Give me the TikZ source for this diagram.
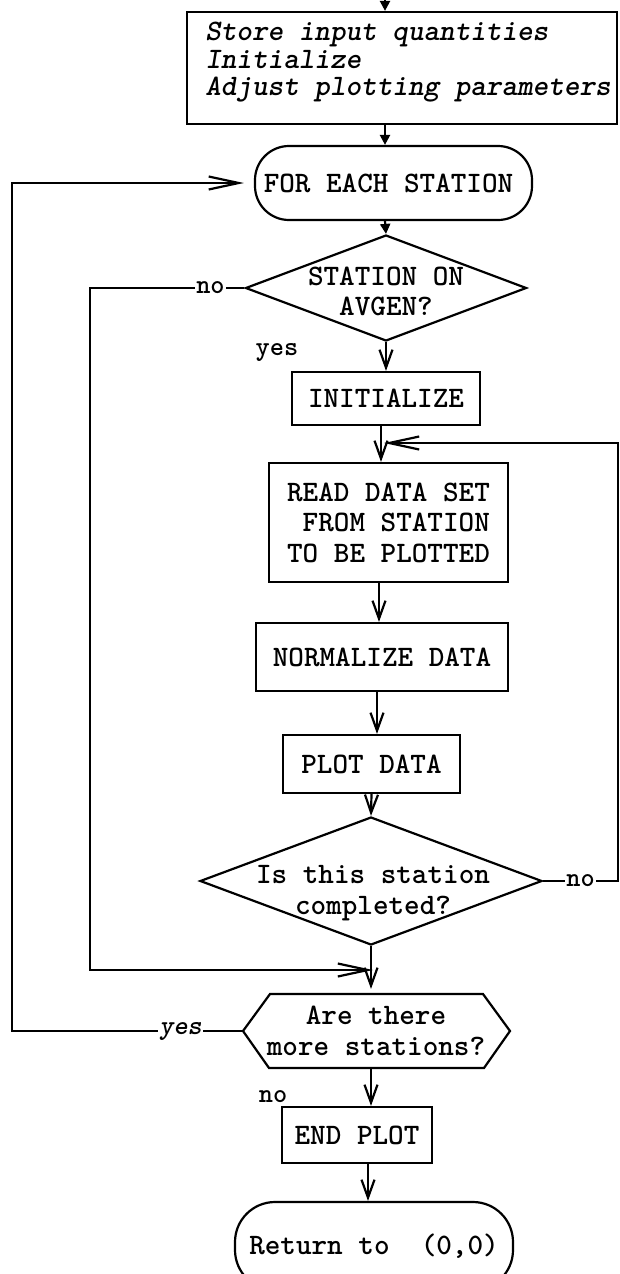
\documentclass[tikz,border=0pt]{standalone}
\usepackage{fontspec}
\usetikzlibrary{arrows.meta,shapes.geometric}
\newcommand{\twfont}{\ttfamily\bfseries}
\begin{document}
\begin{tikzpicture}[x=1pt,y=-1pt,
  line width=2.2pt,
  every node/.style={font=\twfont\fontsize{29.7pt}{30.5pt}\selectfont},
  box/.style={draw, rectangle, inner sep=0pt, align=center},
  term/.style={draw, rectangle, rounded corners=34pt, inner sep=0pt},
  dec/.style={draw, diamond, inner sep=0pt},
  lab/.style={font=\twfont\fontsize{27pt}{29pt}\selectfont, inner sep=1pt},
  arr/.style={-{Straight Barb[length=18pt,width=13pt]}},
  larr/.style={-{Straight Barb[length=30pt,width=13pt]}},
  farr/.style={-{Triangle[length=10pt,width=10pt]}},
]
\useasboundingbox (0,0) rectangle (619,1274);

% nodes
\node[box, minimum width=430pt, minimum height=112pt, align=left,
      font=\twfont\itshape\fontsize{29.7pt}{27.5pt}\selectfont] (init0) at (402,68)
  {\hspace*{12pt}Store input quantities\\\hspace*{12pt}Initialize\\\hspace*{12pt}Adjust plotting parameters\rule[-18pt]{0pt}{18pt}};
\node[term, minimum width=277pt, minimum height=74pt] (each) at (393.5,183) {FOR EACH STATION\hspace*{10pt}};
\node[dec, minimum width=281pt, minimum height=106pt,
      label={[align=center, yshift=-3.5pt]center:STATION ON\\AVGEN?}] (dec1) at (386,288) {};
\node[box, minimum width=188pt, minimum height=53pt] (initb) at (386,398.5) {INITIALIZE};
\node[box, minimum width=239pt, minimum height=119pt, align=left] (read) at (388.5,522.5)
  {READ DATA SET\\\hphantom{R}FROM STATION\\TO BE PLOTTED};
\node[box, minimum width=252pt, minimum height=68pt] (norm) at (382,657) {NORMALIZE DATA};
\node[box, minimum width=177pt, minimum height=58pt] (plot) at (371.5,764) {PLOT DATA};
\node[dec, minimum width=342pt, minimum height=128pt,
      label={[align=center, yshift=-12pt, xshift=2pt]center:Is this station\\completed?}] (dec2) at (371,881) {};
\node[inner sep=0pt, minimum width=213pt, minimum height=74pt, align=center] (hex) at (376,1031)
  {Are there\\more stations?};
\draw ([shift={(-133,0)}]hex.center) -- ([shift={(-106,-37)}]hex.center)
   -- ([shift={(107,-37)}]hex.center) -- ([shift={(134,0)}]hex.center)
   -- ([shift={(108,37)}]hex.center) -- ([shift={(-107,37)}]hex.center) -- cycle;
\coordinate (hexL) at ([shift={(-133,0)}]hex.center);
\node[box, minimum width=150pt, minimum height=56pt] (endp) at (357,1135) {END PLOT};
\node[term, rounded corners=40pt, minimum width=278pt, minimum height=88pt] (ret) at (374,1246) {Return to\ \ (0,0)};

% labels
\node[lab] (yes1) at (277,352) {yes};
\node[lab] (no3) at (273,1097) {no};

% column coordinates
\coordinate (ctop) at (385,-20);
\coordinate (c1) at (385,0);
\coordinate (c2) at (381,0);
\coordinate (c3) at (379,0);
\coordinate (c4) at (377,0);
\coordinate (c6) at (371,0);
\coordinate (c7) at (368,0);
\coordinate (nA) at (90,0);
\coordinate (jn) at (373,970);
\coordinate (rR) at (618,0);
\coordinate (jr) at (384,443);
\coordinate (lL) at (12,0);

% main flow
\draw[farr] (ctop) -- (init0.north -| ctop);
\draw[farr] (init0.south -| c1) -- (each.north -| c1);
\draw[farr] (each.south -| c1) -- (dec1.north);
\draw[arr] (dec1.south) -- (dec1.south |- initb.north);
\draw[arr] (initb.south -| c2) -- (read.north -| c2);
\draw[arr] (read.south -| c3) -- (norm.north -| c3);
\draw[arr] (norm.south -| c4) -- (plot.north -| c4);
\draw[arr] (plot.south) -- (dec2.north);
\draw[arr, shorten >=4pt] (dec2.south) -- (dec2.south |- hex.north);
\draw[arr] (hex.south -| c6) -- (endp.north -| c6);
\draw[arr] (endp.south -| c7) -- (ret.north -| c7);

% loops
\draw[larr] (dec1.west) -- node[lab, fill=white, pos=0.22] {no} (dec1.west -| nA) -- (nA |- jn) -- (jn);
\draw[larr] (dec2.east) -- node[lab, fill=white, pos=0.5] {no} (dec2.east -| rR) -- (rR |- jr) -- (jr);
\draw[larr, shorten >=10pt] (hexL) -- node[lab, fill=white, pos=0.27, font=\twfont\itshape\fontsize{27pt}{29pt}\selectfont] {yes} (hexL -| lL) -- (lL |- each.west) -- (each.west);
\end{tikzpicture}
\end{document}
